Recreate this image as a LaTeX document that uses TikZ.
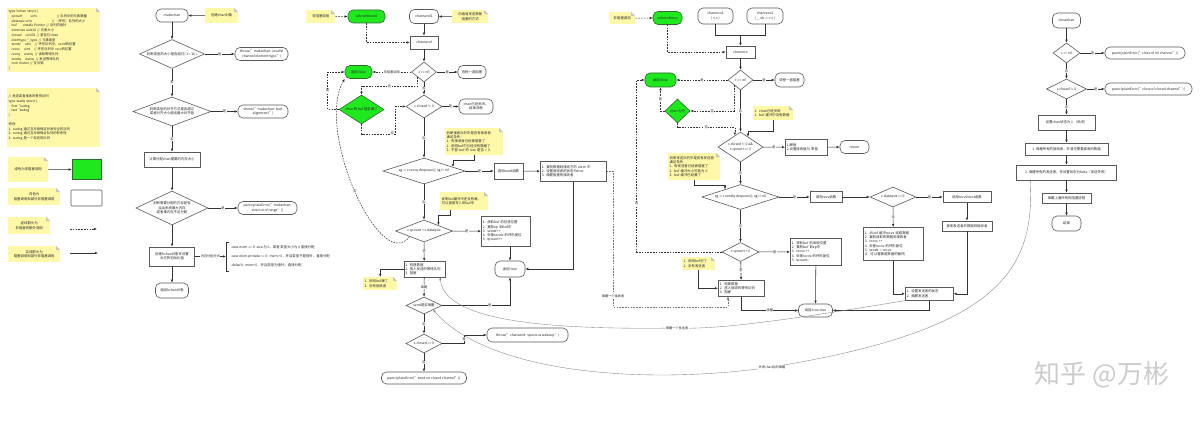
\documentclass[tikz,border=0pt]{standalone}
\usepackage{fontspec}
\setmainfont{Noto Sans CJK SC}
\usetikzlibrary{shapes.geometric,arrows.meta,calc}
\definecolor{notey}{HTML}{FFF8A8}
\definecolor{gfill}{HTML}{1FE81F}
\definecolor{gdraw}{HTML}{2E6B2E}
\definecolor{ln}{HTML}{333333}
\definecolor{bd}{HTML}{5A5A5A}
\tikzset{
  every node/.style={font=\fontsize{3.4}{4.3}\selectfont, text=black!85},
  rbox/.style={draw=bd, line width=0.6pt, rounded corners=5pt, fill=white, align=center, inner sep=0.5pt},
  sbox/.style={draw=bd, line width=0.6pt, fill=white, align=center, inner sep=0.5pt},
  lbox/.style={draw=bd, line width=0.6pt, fill=white, align=left, inner sep=1.5pt, anchor=north west},
  gbox/.style={rbox, fill=gfill, draw=gdraw},
  dia/.style={shape=diamond, draw=bd, line width=0.6pt, fill=white, align=center, inner sep=0pt},
  gdia/.style={dia, fill=gfill, draw=gdraw},
  dsz/.code 2 args={\pgfmathsetmacro\dasp{#1/#2}\pgfkeysalso{minimum width=#1pt, minimum height=#2pt, aspect=\dasp}},
  note/.style={fill=notey, anchor=north west, inner sep=1.5pt, align=left,
    path picture={
      \fill[white] ([xshift=-4pt]path picture bounding box.north east) -- (path picture bounding box.north east) -- ([yshift=-4pt]path picture bounding box.north east) -- cycle;
      \fill[black!22] ([xshift=-4pt]path picture bounding box.north east) -- ([yshift=-4pt]path picture bounding box.north east) -- ([xshift=-4pt,yshift=-4pt]path picture bounding box.north east) -- cycle;}},
  arr/.style={draw=ln, line width=0.55pt, -{Latex[length=3pt,width=2.5pt]}},
  darr/.style={arr, dash pattern=on 1.6pt off 1.2pt},
  wline/.style={draw=black!50, line width=0.35pt, -{Latex[length=2.6pt,width=2.2pt]}},
  lab/.style={fill=white, inner sep=0.4pt, font=\fontsize{3.2}{3.6}\selectfont},
}
\begin{document}
\begin{tikzpicture}[x=1pt,y=-1pt]
\fill[white] (0,0) rectangle (1200,430);
\useasboundingbox (0,0) rectangle (1200,430);

% ---------------- left notes and legend
\node[note, text width=90pt, minimum height=64pt, font=\fontsize{3.3}{4.75}\selectfont] (hchan) at (7,8) {type hchan struct \{\\
\hspace*{3pt}qcount\hspace{8pt}uint\hspace{20pt}// 队列中的元素数量\\
\hspace*{3pt}dataqsiz uint\hspace{20pt}// （环形）队列的大小\\
\hspace*{3pt}buf\hspace{6pt}unsafe.Pointer // 队列的指针\\
\hspace*{3pt}elemsize uint16 // 元素大小\\
\hspace*{3pt}closed\hspace{4pt}uint32 // 是否已close\\
\hspace*{3pt}elemtype *\_type // 元素类型\\
\hspace*{3pt}sendx\hspace{4pt}uint\hspace{4pt}// 环形队列中，send的位置\\
\hspace*{3pt}recvx\hspace{4pt}uint\hspace{4pt}// 环形队列中 recv的位置\\
\hspace*{3pt}recvq\hspace{4pt}waitq\hspace{2pt}// 读取等待队列\\
\hspace*{3pt}sendq\hspace{4pt}waitq\hspace{2pt}// 发送等待队列\\
\hspace*{3pt}lock mutex // 互斥锁\\
\}};
\node[note, text width=90pt, minimum height=59pt, font=\fontsize{3.3}{4.75}\selectfont] (waitq) at (7,88) {// 发送或者接收的等待队列\\
type waitq struct \{\\
\hspace*{3pt}first *sudog\\
\hspace*{3pt}last *sudog\\
\}\\[4pt]
特性:\\
1. sudog 通过互斥锁保证并发安全的队列\\
2. sudog 通过互斥锁保证队列的有序性\\
3. sudog 是一个双向的队列};

\node[note, text width=37pt, minimum height=25pt, align=center] (lg1) at (8,157) {绿色为非阻塞调用};
\node[sbox, fill=gfill, draw=gdraw, minimum width=29pt, minimum height=20pt] (lgb1) at (86.5,169.5) {};
\draw[arr] (lg1.east) -- (lgb1.west);
\node[note, text width=49pt, minimum height=17pt, align=center] (lg2) at (8,188) {白色为\\阻塞调用和部分非阻塞调用};
\node[sbox, rounded corners=1pt, minimum width=31pt, minimum height=16pt] (lgb2) at (86.5,198) {};
\node[note, text width=39pt, minimum height=17pt, align=center] (lg3) at (8,217) {虚线箭头为\\非阻塞的额外调用};
\coordinate (l3a) at (70,229); \coordinate (l3b) at (97,229);
\draw[darr] (l3a) -- (l3b);
\node[note, text width=49pt, minimum height=16pt, align=center] (lg4) at (8,246) {实线箭头为\\阻塞调用和部分非阻塞调用};
\coordinate (l4a) at (70,253); \coordinate (l4b) at (98,253);
\draw[arr] (l4a) -- (l4b);

% ---------------- makechan
\node[rbox, minimum width=32pt, minimum height=13pt] (mk) at (172,15.5) {makechan};
\node[note, minimum width=33pt, minimum height=15pt, align=center] (mkn) at (205,8) {创建chan对象};
\node[dia, dsz={65}{29}] (d1) at (172,54) {判断类型的大小是否超过( 1 << 16 )};
\node[rbox, minimum width=53pt, minimum height=13pt] (t1) at (261.5,54) {throw("makechan: invalid\\channel element type")};
\node[dia, dsz={78}{29}] (d2) at (172,111.5) {判断类型的对齐方式是否超过\\或者对齐大小超出最大对齐值};
\node[rbox, minimum width=50pt, minimum height=13pt] (t2) at (263,111.5) {throw("makechan: bad\\alignment")};
\node[sbox, minimum width=56pt, minimum height=15pt] (r1) at (172,159.5) {计算分配chan需要的内存大小};
\node[dia, dsz={72}{34}] (d3) at (172,208) {判断需要分配的内存是否\\溢出系统最大内存\\或者堆内存不足分配};
\node[rbox, minimum width=59pt, minimum height=13pt] (p1) at (267.5,208) {panic(plainError("makechan:\\size out of range"))};
\node[sbox, minimum width=45pt, minimum height=19pt] (r2) at (172,256.5) {创建hchan对象并设置\\对应的初始化值};
\node[rbox, minimum width=33pt, minimum height=15pt] (rt) at (172,290.5) {返回hchan对象};
\coordinate (brc) at (226,256.5);
\draw[ln, line width=0.5pt] (228.5,242) -- (226,242) -- (226,271) -- (228.5,271);
\node[anchor=west] (m1) at (228,247.5) {case mem == 0: size 为 0，或者 类型大小为 0 直接分配};
\node[anchor=west] (m2) at (228,256.5) {case elem.ptrdata == 0:\ \ mem >0，并且类型不是指针，直接分配};
\node[anchor=west] (m3) at (228,265.5) {default:\ \ mem>0，并且类型为指针，直接分配};

\draw[arr] (mkn.west) -- (mk.east);
\draw[arr] (mk) -- (d1);
\draw[arr] (d1) -- node[lab]{是} (t1);
\draw[arr] (d1) -- node[lab]{否} (d2);
\draw[arr] (d2) -- node[lab]{是} (t2);
\draw[arr] (d2) -- node[lab]{否} (r1);
\draw[arr] (r1) -- (d3);
\draw[arr] (d3) -- node[lab]{是} (p1);
\draw[arr] (d3) -- (r2);
\draw[arr] (r2) -- node[lab]{内存分配方式} (brc);
\draw[arr] (r2) -- (rt);

% ---------------- chansend
\node[note, minimum width=29pt, minimum height=13pt, align=center] (sn) at (306,10) {非阻塞调用};
\node[gbox, minimum width=37pt, minimum height=13pt] (sns) at (366.5,16.5) {selectnbsend};
\node[rbox, minimum width=29pt, minimum height=14pt] (cs1) at (424,16.5) {chansend1};
\node[note, minimum width=36pt, minimum height=13pt, align=center] (csn) at (452,10) {向通道发送数据\\阻塞的方式};
\node[sbox, minimum width=28pt, minimum height=13pt] (cs) at (424,42.5) {chansend};
\node[dia, dsz={25}{20}] (dnil) at (424,72) {c == nil};
\node[rbox, minimum width=28pt, minimum height=13pt] (blk) at (472,72) {协程一直阻塞};
\node[gbox, minimum width=27pt, minimum height=13pt] (rf) at (358.5,72) {返回 false};
\node[gdia, dsz={45}{29}] (gd) at (361.5,109.5) {chan 的 buf 是否满了};
\node[dia, dsz={36}{23}] (dclosed) at (424,106.5) {c.closed != 0};
\node[rbox, minimum width=34pt, minimum height=15pt] (cend) at (476,106.5) {chan已经关闭，\\结束流程};
\node[note, text width=55pt, minimum height=27pt] (sqn) at (445,128) {判断接收队列中是否有接收者\\满足条件:\\1. 有接收者已经被阻塞了\\2. 说明buf中已经没有数据了\\3. 不管 buf 的 size 是否 > 0};
\node[dia, dsz={82}{26}] (dsq) at (424,171) {sg := c.recvq.dequeue(); sg != nil};
\node[sbox, minimum width=29pt, minimum height=16pt] (sendf) at (508.5,171) {调用send函数};
\node[lbox, text width=63pt, minimum height=20pt] (sendbox) at (540,161) {1. 复制数据到接收方的 elem 中\\2. 设置接收者的状态为true\\3. 唤醒阻塞的接收者};
\node[rbox, minimum width=30pt, minimum height=16pt] (rt1) at (510,269) {返回 true};
\node[dia, dsz={57}{22}] (dq) at (424,231) {c.qcount < c.dataqsiz};
\node[note, text width=45pt, minimum height=18pt] (qn) at (440,192) {说明buf缓冲中还没有满，\\可以直接写入到buf中};
\node[lbox, text width=46pt, minimum height=30pt] (bufbox) at (481,216) {1. 获取buf 的存放位置\\2. 复制ep 到buf中\\3. sendx++\\4. 处理sendx 的环形复位\\5. qcount++};
\node[lbox, text width=38pt, minimum height=16pt] (sbk) at (403.5,261) {1. 构建数据\\2. 放入发送的等待队列\\3. 阻塞};
\node[note, text width=31pt, minimum height=13pt] (bn) at (363,277) {1. 说明buf满了\\2. 没有接收者};
\node[dia, dsz={36}{17}] (dwake) at (424,305.5) {send是否唤醒};
\node[dia, dsz={36}{19}] (dc0) at (424,343.5) {c.closed == 0};
\node[rbox, minimum width=81pt, minimum height=14pt] (thr) at (527.5,335) {throw("chansend: spurious wakeup")};
\node[rbox, minimum width=85pt, minimum height=12pt] (pnc) at (424,378) {panic(plainError("send on closed channel"))};

\draw[darr] (sn.east) -- (sns.west);
\draw[arr] (csn.west) -- (cs1.east);
\draw[arr] (cs1) -- (cs);
\draw[darr] (sns.south) |- (cs.west);
\draw[arr] (cs) -- (dnil);
\draw[arr] (dnil) -- node[lab]{是} (blk);
\draw[darr] (dnil) -- node[lab]{非阻塞调用} (rf);
\draw[darr] (dnil.south west) -- ++(0,9) -| node[lab,pos=0.25]{否} (gd.north);
\draw[arr] (dnil) -- node[lab]{否} (dclosed);
\draw[arr] (dclosed) -- node[lab]{是} (cend);
\draw[darr] (gd.south) -- ++(0,9.5) -| node[lab,pos=0.45]{否} ([xshift=-10pt]dclosed.west) -- (dclosed.west);
\draw[darr] (gd.west) -- ++(-11,0) |- node[lab,pos=0.25]{是} (rf.west);
\draw[arr] (dclosed) -- node[lab]{否} (dsq);
\draw[arr] (sqn.south) -- ++(0,5) -| ($(dsq.north)!0.7!(dsq.east)$);
\draw[arr] (dsq) -- node[lab]{是} (sendf);
\draw[arr] (sendf) -- (sendbox);
\draw[arr] (sendbox.south) |- (rt1.east);
\draw[arr] (dsq) -- node[lab]{否} (dq);
\draw[arr] ([xshift=-14pt]qn.south) -- ++(0,5) -| ($(dq.north)!0.5!(dq.east)$);
\draw[arr] (dq) -- node[lab]{是} (bufbox);
\draw[arr] (rt1.north |- bufbox.south) -- (rt1.north);
\draw[arr] (dq) -- node[lab]{否} (sbk);
\draw[arr] (sbk.west) -| (bn.north);
\draw[arr] (sbk) -- node[lab]{唤醒} (dwake);
\draw[arr] (dwake.east) -| node[lab,pos=0.35]{是} (rt1.south);
\draw[arr] (dwake) -- node[lab]{否} (dc0);
\draw[arr] (dc0.east) -- ++(22,0) |- node[lab,pos=0.25]{是} (thr.west);
\draw[arr] (dc0) -- node[lab]{否} (pnc);
\draw[darr] (dq.south west) .. controls (380,275) and (315,130) .. node[lab,pos=0.5]{否} (rf.south west);

% ---------------- chanrecv
\node[note, minimum width=26pt, minimum height=12pt, align=center] (rn) at (609,12) {非阻塞调用};
\node[gbox, minimum width=29pt, minimum height=13pt] (snr) at (667.5,18) {selectnbrecv};
\node[rbox, minimum width=35pt, minimum height=16pt] (cr1) at (715.5,16) {chanrecv1\\( <-c )};
\node[rbox, minimum width=36pt, minimum height=16pt] (cr2) at (765,16) {chanrecv2\\( \_, ok := <-c )};
\coordinate (mrg) at (740.5,35);
\node[sbox, minimum width=29pt, minimum height=12pt] (cr) at (740.5,52) {chanrecv};
\node[dia, dsz={25}{20}] (rdnil) at (740.5,80) {c == nil};
\node[rbox, minimum width=29pt, minimum height=14pt] (rblk) at (789.5,80) {协程一直阻塞};
\node[gbox, minimum width=31pt, minimum height=14pt] (rrf) at (660.5,80) {返回 false};
\node[gdia, dsz={25}{24}] (rgd) at (677.5,111) {chan 为空};
\node[dia, dsz={45}{30}] (rdcl) at (740.5,147) {c.closed != 0 \&\&\\c.qcount == 0};
\node[note, text width=37pt, minimum height=14pt] (rcn) at (753,106) {1. chan已经关闭\\2. buf 缓冲中没有数据};
\node[lbox, text width=39pt, minimum height=16pt] (rzero) at (785,139) {1.解锁\\2.设置接收值为 零值};
\node[rbox, minimum width=29pt, minimum height=13pt] (rret) at (854.5,147) {return};
\node[dia, dsz={77}{25}] (rdsq) at (740.5,197) {sg := c.sendq.dequeue(); sg != nil};
\node[note, text width=49pt, minimum height=27pt] (rsn) at (668,153) {判断发送队列中是否有发送者\\满足条件:\\1. 有发送者已经被阻塞了\\2. buf 缓冲大小可能为 0\\3. buf 缓冲已经满了};
\node[sbox, minimum width=32pt, minimum height=11pt] (rrecvf) at (826,197) {调用recv函数};
\node[dia, dsz={46}{20}] (rdds) at (893,197) {c.dataqsiz == 0};
\node[sbox, minimum width=48pt, minimum height=11pt] (rdir) at (967,197) {调用recvDirect函数};
\node[sbox, minimum width=50pt, minimum height=10pt] (rcopy) at (967,226) {复制发送者的数据到接收者};
\node[lbox, text width=57pt, minimum height=33pt] (rbufr) at (863,227) {1. 从buf 缓冲recvx 读取数据\\2. 复制读取的数据到接收者\\3. recvx ++\\4. 处理recvx 的环形复位\\5. sendx = recvx\\(1. 可以看做是数据的循环)};
\node[lbox, text width=45pt, minimum height=13pt] (rsb) at (905,287) {1. 设置发送者的状态\\2. 唤醒发送者};
\node[dia, dsz={37}{19}] (rdqc) at (740.5,252) {c.qcount > 0};
\node[lbox, text width=48pt, minimum height=27pt] (rbufbox) at (790,238) {1. 获取buf 的读取位置\\2. 复制buf 到ep中\\3. recvx ++\\4. 处理recvx 的环形复位\\5. qcount--};
\node[rbox, minimum width=34pt, minimum height=13pt] (rtt) at (815.5,310.5) {返回 true true};
\node[lbox, text width=43pt, minimum height=16pt] (rbk) at (718,280) {1. 构建数据\\2. 放入接收的等待队列\\3. 阻塞};
\node[note, text width=30pt, minimum height=13pt] (rbn) at (682,257) {1. 说明buf空了\\2. 没有发送者};

\draw[darr] (rn.east) -- (snr.west);
\draw[ln, line width=0.55pt] (cr2.south) |- (mrg);
\draw[arr] (cr1.south) |- (mrg) -- (cr.north);
\draw[darr] (snr.south) |- (cr.west);
\draw[arr] (cr) -- (rdnil);
\draw[arr] (rdnil) -- node[lab]{是} (rblk);
\draw[darr] (rdnil) -- node[lab]{是} (rrf);
\draw[darr] (rdnil.south west) |- node[lab,pos=0.75]{否} (rgd.east);
\draw[arr] (rdnil) -- node[lab]{否} (rdcl);
\draw[darr] (rgd.west) -| node[lab,pos=0.75]{是} (rrf.south);
\draw[darr] (rgd.south) -- ++(0,4) -| node[lab,pos=0.25]{否} ($(rdcl.north)!0.25!(rdcl.west)$);
\draw[arr] (rcn.south) -- ++(0,11) -| ($(rdcl.north)!0.33!(rdcl.east)$);
\draw[arr] (rdcl) -- node[lab]{是} (rzero);
\draw[arr] (rzero) -- (rret);
\draw[arr] (rdcl) -- node[lab]{否} (rdsq);
\draw[arr] (rsn.south) -- ++(0,5) -| ($(rdsq.north)!0.4!(rdsq.west)$);
\draw[arr] (rdsq) -- node[lab]{是} (rrecvf);
\draw[arr] (rrecvf) -- (rdds);
\draw[arr] (rdds) -- node[lab]{是} (rdir);
\draw[arr] (rdir) -- (rcopy);
\draw[arr] (rdds) -- node[lab]{否} (rbufr);
\draw[arr] (rcopy.south) |- (rsb.east);
\draw[arr] (rbufr.south) |- (rsb.west);
\draw[arr] (rsb.south) |- (rtt.east);
\draw[arr] (rdsq) -- node[lab]{否} (rdqc);
\draw[arr] (rdqc) -- node[lab]{是} (rbufbox);
\draw[arr] (rbufbox.south) -- (rtt.north);
\draw[arr] (rdqc) -- node[lab]{否} (rbk);
\draw[arr] (rbn.south) |- (rbk.west);
\draw[arr] (rbk.south) |- node[lab,pos=0.75]{唤醒} (rtt.west);
\draw[darr] (rdqc.west) -| node[lab,pos=0.64]{否} ([xshift=-8pt]rrf.west) -- (rrf.west);

% wake receiver from send side
\coordinate (w1) at (613,307); \coordinate (w2) at (728,307);
\draw[darr, draw=black!55, line width=0.4pt] (sendbox.east) -| node[lab,pos=0.96]{唤醒一个接收者} (w1) -- (w2) -- (w2 |- rbk.south);

% ---------------- closechan
\node[rbox, minimum width=28pt, minimum height=15pt] (cc) at (1066.5,20.5) {closechan};
\node[dia, dsz={27}{20}] (cdn) at (1066.5,53) {c == nil};
\node[rbox, minimum width=80pt, minimum height=12pt] (cp1) at (1145,53) {panic(plainError("close of nil channel"))};
\node[dia, dsz={40}{20}] (cdc) at (1066.5,89) {c.closed != 0};
\node[rbox, minimum width=87pt, minimum height=12pt] (cp2) at (1148.5,89) {panic(plainError("close of closed channel"))};
\node[sbox, minimum width=57pt, minimum height=15pt] (cs1b) at (1066.5,122.5) {设置chan状态为 1 （关闭）};
\node[sbox, minimum width=83pt, minimum height=12pt] (cs2) at (1066.5,149) {1. 唤醒所有的接收者，并清空需要接收的数据};
\node[sbox, minimum width=100pt, minimum height=15pt] (cs3) at (1066.5,172.5) {2. 唤醒所有的发送者，并设置状态为false（发送失败）};
\node[sbox, minimum width=49pt, minimum height=10pt] (cs4) at (1066.5,198) {唤醒上面所有的阻塞协程};
\node[rbox, minimum width=29pt, minimum height=15pt] (cfin) at (1066.5,223.5) {结束};
\draw[arr] (cc) -- (cdn);
\draw[arr] (cdn) -- node[lab]{是} (cp1);
\draw[arr] (cdn) -- node[lab]{否} (cdc);
\draw[arr] (cdc) -- node[lab]{是} (cp2);
\draw[arr] (cdc) -- node[lab]{否} (cs1b);
\draw[arr] (cs1b) -- (cs2);
\draw[arr] (cs2) -- (cs3);
\draw[arr] (cs3) -- (cs4);
\draw[arr] (cs4) -- (cfin);

% ---------------- long wake-up curves
\draw[wline] ($(cs3.south west)!0.14!(cs3.south east)$) .. controls (1035,270) and (1000,330) .. node[lab,pos=1]{关闭chan后的唤醒} (772,367) .. controls (650,385) and (490,375) .. (dwake.south east);
\draw[wline] (rsb.south west) .. controls (800,318) and (720,330) .. node[lab,pos=1]{唤醒一个发送者} (677,328) .. controls (540,330) and (445,320) .. ([xshift=-5pt]sbk.south east);

% watermark
\node[text=black!20, font=\fontsize{26}{26}\selectfont] (wm) at (1102,375) {知乎 @万彬};
\end{tikzpicture}
\end{document}
